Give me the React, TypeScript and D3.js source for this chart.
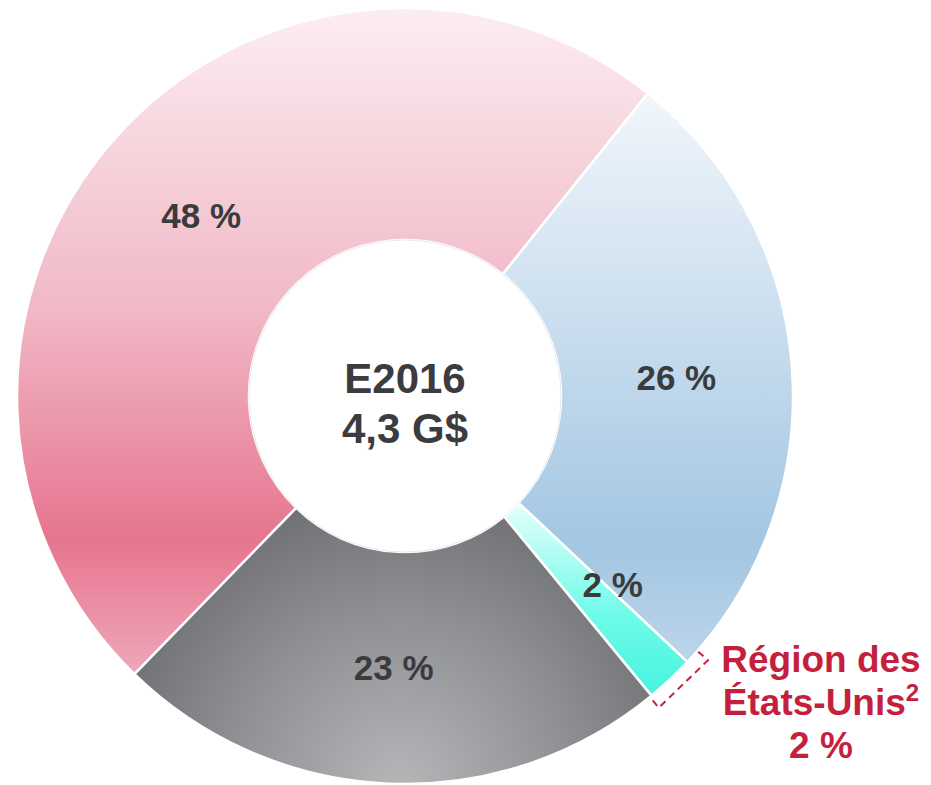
import React from 'react';
import * as d3 from 'd3';

const categories = ['Canada', 'International', 'Région des États-Unis', 'Autres'];
const values = [48, 26, 2, 23];
const labels = ['48 %', '26 %', '2 %', '23 %'];
const centerLines = ['E2016', '4,3 G$'];
const calloutLines = ['Région des', 'États-Unis', '2 %'];

const W = 931;
const H = 785;
const cx = 405;
const cy = 396;
const outerR = 388;
const innerR = 156;
const startDeg = -135.8;

function App() {
  const pie = d3
    .pie<number>()
    .value(d => d)
    .sort(null)
    .startAngle((startDeg * Math.PI) / 180)
    .endAngle(((startDeg + 360) * Math.PI) / 180);
  const arcs = pie(values);
  const arcGen = d3.arc<d3.PieArcDatum<number>>().innerRadius(innerR).outerRadius(outerR);
  const labelArc = d3
    .arc<d3.PieArcDatum<number>>()
    .innerRadius((innerR + outerR) / 2)
    .outerRadius((innerR + outerR) / 2);
  const fills = ['url(#gPink)', 'url(#gBlue)', 'url(#gCyan)', 'url(#gGray)'];

  // dashed bracket next to the small slice
  const small = arcs[2];
  const rad = Math.PI / 180;
  const pt = (a: number, r: number) => [Math.sin(a) * r, -Math.cos(a) * r];
  const a0 = small.startAngle - 2.2 * rad;
  const a1 = small.endAngle + 0.3 * rad;
  const bracket = d3.line()([
    pt(a0, outerR + 1),
    pt(a0, outerR + 14),
    pt(a1, outerR + 14),
    pt(a1, outerR + 1),
  ] as [number, number][]) as string;

  return (
    <svg
      width={W}
      height={H}
      style={{ position: 'absolute', left: 0, top: 0, background: '#fff' }}
      fontFamily="'Liberation Sans', Arial, sans-serif"
    >
      <defs>
        <linearGradient id="gPink" gradientUnits="userSpaceOnUse" x1="0" y1={-outerR} x2="0" y2={284}>
          <stop offset="0" stopColor="#fcedf1" />
          <stop offset="0.45" stopColor="#f1b8c6" />
          <stop offset="0.79" stopColor="#e6758f" />
          <stop offset="1" stopColor="#efaabb" />
        </linearGradient>
        <linearGradient id="gBlue" gradientUnits="userSpaceOnUse" x1="0" y1={-301} x2="0" y2={264}>
          <stop offset="0" stopColor="#f1f6fb" />
          <stop offset="0.8" stopColor="#a3c6e2" />
          <stop offset="1" stopColor="#bcd5ea" />
        </linearGradient>
        <linearGradient id="gCyan" gradientUnits="userSpaceOnUse" x1="0" y1={104} x2="0" y2={294}>
          <stop offset="0" stopColor="#e8fffc" />
          <stop offset="0.6" stopColor="#70fbe9" />
          <stop offset="1" stopColor="#48f4df" />
        </linearGradient>
        <radialGradient id="gGray" gradientUnits="userSpaceOnUse" cx={-5} cy={389} r={310}>
          <stop offset="0" stopColor="#b5b6b8" />
          <stop offset="0.55" stopColor="#8e9093" />
          <stop offset="1" stopColor="#6c6d70" />
        </radialGradient>
      </defs>
      <g transform={`translate(${cx},${cy})`}>
        {arcs.map((a, i) => (
          <path key={categories[i]} d={arcGen(a) as string} fill={fills[i]} stroke="#fff" strokeWidth={2.5} />
        ))}
        <circle r={innerR} fill="#fff" stroke="#e4e4e4" strokeWidth={0.8} />
        {arcs.map((a, i) => {
          let [x, y] = labelArc.centroid(a);
          if (i === 2) {
            x += 22;
            y -= 10;
          }
          return (
            <text
              key={labels[i]}
              x={x}
              y={y}
              textAnchor="middle"
              dominantBaseline="central"
              fontSize={35}
              fontWeight="bold"
              fill="#3a3b3d"
            >
              {labels[i]}
            </text>
          );
        })}
        {centerLines.map((t, i) => (
          <text key={t} x={0} y={-3 + i * 50} textAnchor="middle" fontSize={42} fontWeight="bold" fill="#3a3c3f">
            {t}
          </text>
        ))}
        <path d={bracket} fill="none" stroke="#c8203f" strokeWidth={2} strokeDasharray="7,5" />
      </g>
      <g fill="#c51f3e" fontWeight="bold" fontSize={37} textAnchor="middle">
        <text x={821} y={672}>{calloutLines[0]}</text>
        <text x={821} y={715}>
          {calloutLines[1]}
          <tspan fontSize={24} dy={-14}>2</tspan>
        </text>
        <text x={821} y={758}>{calloutLines[2]}</text>
      </g>
    </svg>
  );
}

export default App;
